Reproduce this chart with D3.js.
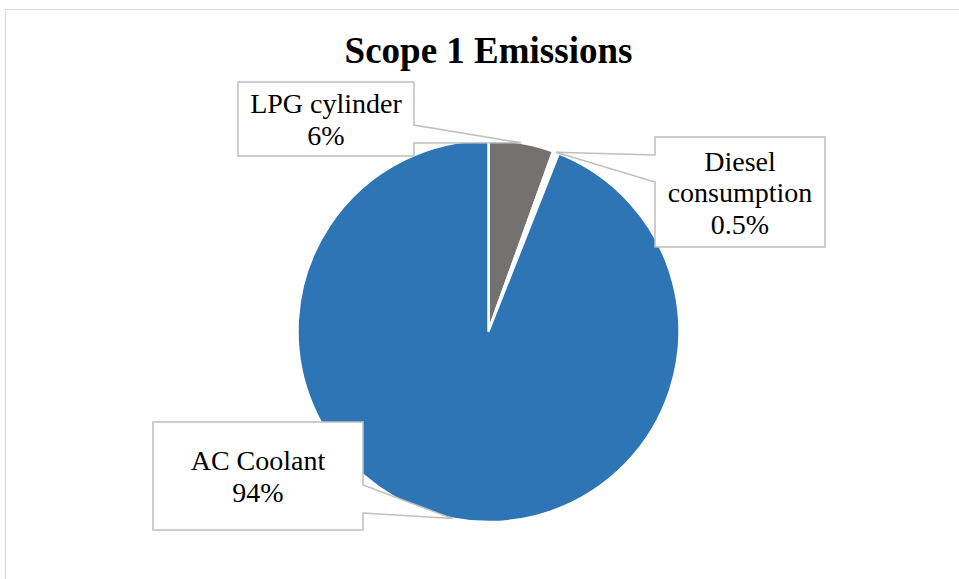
<!DOCTYPE html>
<html>
<head>
<meta charset="utf-8">
<script src="https://cdn.jsdelivr.net/npm/d3@7"></script>
<style>
  body { margin: 0; background: #fff; }
  svg { display: block; font-family: "Liberation Serif", "Times New Roman", serif; }
</style>
</head>
<body>
<svg id="chart"></svg>
<script>
const categories = ["LPG cylinder", "Diesel consumption", "AC Coolant"];
const values = [5.5, 0.5, 94];
const pctLabels = ["6%", "0.5%", "94%"];
const labelLines = [["LPG cylinder"], ["Diesel", "consumption"], ["AC Coolant"]];
const colors = ["#767171", "#ffffff", "#2E75B6"];

const width = 959, height = 579;
const cx = 488.5, cy = 331, radius = 191;
const serif = "Liberation Serif";

// callout boxes: x0,y0,x1,y1, side of the wedge, wedge base (y range on that side)
const boxes = [
    {x0: 238, y0: 82, x1: 414, y1: 156, side: "right", w0: 125, w1: 143},
    {x0: 655, y0: 137, x1: 825, y1: 247, side: "left", w0: 155, w1: 182},
    {x0: 153, y0: 422, x1: 363, y1: 530, side: "right", w0: 485, w1: 513}
];

const svg = d3.select("#chart").attr("width", width).attr("height", height);

svg.append("rect").attr("x", 5.5).attr("y", 9.5).attr("width", 1000).attr("height", 1000)
    .attr("fill", "#fff").attr("stroke", "#d9d9d9").attr("stroke-width", 1);

svg.append("text").attr("x", 488.5).attr("y", 63).attr("text-anchor", "middle")
    .attr("font-family", serif).attr("font-weight", "bold").attr("font-size", 37)
    .text("Scope 1 Emissions");

const pie = d3.pie().sort(null).value(d => d);
const arcs = pie(values);
const arc = d3.arc().innerRadius(0).outerRadius(radius);

const g = svg.append("g").attr("transform", `translate(${cx},${cy})`);
g.selectAll("path.slice").data(arcs).enter().append("path").attr("class", "slice")
    .attr("d", arc).attr("fill", (d, i) => colors[i])
    .attr("stroke", "#fff").attr("stroke-width", 2.5).attr("stroke-linejoin", "round");

// callouts with a wedge pointing to the middle of each slice
arcs.forEach((d, i) => {
    const b = boxes[i];
    const a = (d.startAngle + d.endAngle) / 2;
    const tip = [cx + radius * Math.sin(a), cy - radius * Math.cos(a)];
    let pts;
    if (b.side === "right") {
        pts = [[b.x0, b.y0], [b.x1, b.y0], [b.x1, b.w0], tip, [b.x1, b.w1], [b.x1, b.y1], [b.x0, b.y1]];
    } else {
        pts = [[b.x0, b.y0], [b.x1, b.y0], [b.x1, b.y1], [b.x0, b.y1], [b.x0, b.w1], tip, [b.x0, b.w0]];
    }
    svg.append("path").attr("d", d3.line()(pts) + "Z")
        .attr("fill", "#fff").attr("stroke", "#bfbfbf").attr("stroke-width", 1.5);

    const lines = labelLines[i].concat([pctLabels[i]]);
    const lh = 31.5;
    const midY = (b.y0 + b.y1) / 2;
    const firstBase = midY - (lines.length - 1) * lh / 2 + 10;
    const t = svg.append("text").attr("text-anchor", "middle")
        .attr("font-family", serif).attr("font-size", 28).attr("fill", "#000");
    lines.forEach((ln, j) => {
        t.append("tspan").attr("x", (b.x0 + b.x1) / 2).attr("y", firstBase + j * lh)
            .attr("font-family", serif).text(ln);
    });
});
</script>
</body>
</html>
